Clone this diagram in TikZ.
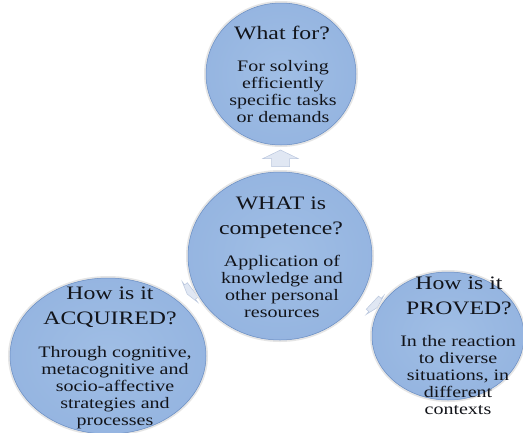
\documentclass[tikz,border=0pt]{standalone}
\usepackage{fontspec}
\setmainfont{Liberation Serif}
\usepackage{graphicx}
\usetikzlibrary{shapes.geometric,calc,backgrounds}

\definecolor{orbin}{RGB}{160,190,229}
\definecolor{orbmid}{RGB}{148,180,224}
\definecolor{orbout}{RGB}{128,163,214}
\definecolor{orbrim}{RGB}{112,149,204}
\definecolor{orbedge}{RGB}{104,140,194}
\definecolor{ink}{RGB}{18,20,26}
\definecolor{arrowc}{RGB}{224,231,243}
\definecolor{arrowedge}{RGB}{186,199,222}

\pgfdeclareradialshading{orb}{\pgfpoint{0bp}{0bp}}{%
  color(0bp)=(orbin); color(28bp)=(orbmid); color(44bp)=(orbout); color(50bp)=(orbrim)}

% multi-line centred text, widened horizontally
\newcommand\wideblock[1]{\scalebox{1.25}[1]{\begin{tabular}{@{}c@{}}#1\end{tabular}}}

\tikzset{
  orb/.style={ellipse, inner sep=0pt, shading=orb, draw=orbedge, line width=0.5pt,
    preaction={draw=black!10, line width=4pt}},
  titletext/.style={font=\fontsize{19}{25}\selectfont, text=ink, inner sep=0pt},
  bodytext/.style={font=\fontsize{16}{17}\selectfont, text=ink, inner sep=0pt},
  arrowfill/.style={fill=arrowc, draw=arrowedge, line width=0.5pt},
  % block arrow pointing along local +x
  blockarrow/.pic={
    \path[arrowfill] (-8,-9) -- (0,-9) -- (0,-17.5) -- (8.5,0) -- (0,17.5) -- (0,9) -- (-8,9) -- cycle;},
  % flat block arrow squeezed into a narrow gap
  gaparrow/.pic={
    \path[arrowfill] (-3.5,-9) -- (0,-9) -- (0,-13) -- (3.5,0) -- (0,13) -- (0,9) -- (-3.5,9) -- cycle;}
}

\begin{document}
\begin{tikzpicture}[x=1pt,y=-1pt]
  \useasboundingbox (0,0) rectangle (523,432);

  % the four discs
  \node[orb, minimum width=150pt, minimum height=142pt] (top)   at (281,74)  {};
  \node[orb, minimum width=184pt, minimum height=168pt] (core)  at (280,256) {};
  \node[orb, minimum width=196pt, minimum height=156pt] (left)  at (108,356) {};
  \node[orb, minimum width=152pt, minimum height=128pt] (right) at (448,336) {};

  % white page and block arrows in the gaps, behind the discs
  \begin{scope}[on background layer]
    \fill[white] (0,0) rectangle (523,432);
    \pic[rotate=90]  at ($(top.south)!0.5!(core.north)$) {blockarrow};
    \coordinate (gapL) at (190,292);
    \coordinate (gapR) at (375,305);
    \pic[rotate=217] at (gapL) {gaparrow};
    \pic[rotate=-43] at (gapR) {gaparrow};
  \end{scope}

  % texts
  \node[titletext] (topTitle)   at (282,34)  {\wideblock{What for?}};
  \node[bodytext]  (topBody)    at (283,94)  {\wideblock{For solving\\efficiently\\specific tasks\\or demands}};

  \node[titletext] (coreTitle)  at (281,217) {\wideblock{WHAT is\\competence?}};
  \node[bodytext]  (coreBody)   at (282,289) {\wideblock{Application of\\knowledge and\\other personal\\resources}};

  \node[titletext] (leftTitle)  at (110,307) {\wideblock{How is it\\ACQUIRED?}};
  \node[bodytext]  (leftBody)   at (115,388) {\wideblock{Through cognitive,\\metacognitive and\\socio-affective\\strategies and\\processes}};

  \node[titletext] (rightTitle) at (459,297) {\wideblock{How is it\\PROVED?}};
  \node[bodytext]  (rightBody)  at (458,377) {\wideblock{In the reaction\\to diverse\\situations, in\\different\\contexts}};
\end{tikzpicture}
\end{document}
